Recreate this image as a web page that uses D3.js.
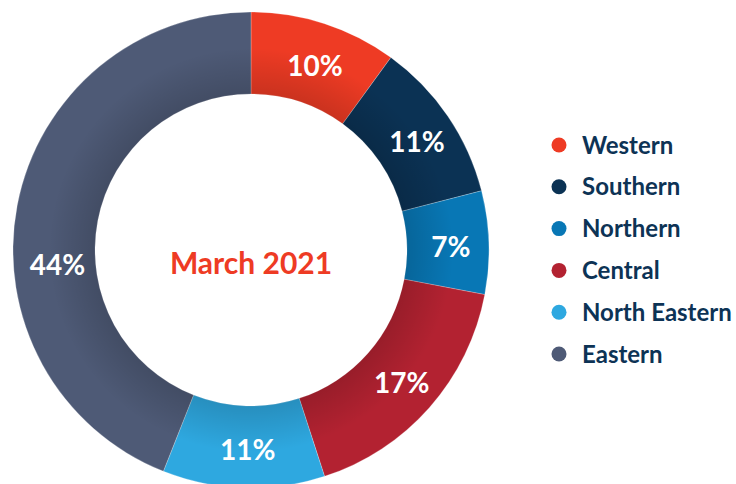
<!DOCTYPE html>
<html>
<head>
<meta charset="utf-8">
<script src="https://cdn.jsdelivr.net/npm/d3@7"></script>
<style>
  body { margin: 0; background: #fff; }
  svg { display: block; font-family: Lato, "Open Sans", sans-serif; }
</style>
</head>
<body>
<svg id="chart" width="736" height="484"></svg>
<script>
var regions = ["Western", "Southern", "Northern", "Central", "North Eastern", "Eastern"];
var shares = [10, 11, 7, 17, 11, 44];
var colors = ["#ee3b24", "#0b3254", "#0877b5", "#b32231", "#2ea8e0", "#4e5a76"];
var centerTitle = "March 2021";

var svg = d3.select("#chart");
var cx = 251, cy = 250, outerR = 238, innerR = 156;

// darker near the hole, like the original
var grad = svg.append("defs").append("radialGradient")
    .attr("id", "shade")
    .attr("gradientUnits", "userSpaceOnUse")
    .attr("cx", 0).attr("cy", 0).attr("r", outerR);
grad.append("stop").attr("offset", innerR / outerR).attr("stop-color", "#000").attr("stop-opacity", 0.15);
grad.append("stop").attr("offset", 0.85).attr("stop-color", "#000").attr("stop-opacity", 0);

var pie = d3.pie().sort(null).value(function(d){ return d; });
var arcs = pie(shares);
var arc = d3.arc().innerRadius(innerR).outerRadius(outerR);
var midR = (innerR + outerR) / 2;

var g = svg.append("g").attr("transform", "translate(" + cx + "," + cy + ")");

g.selectAll("path.slice")
    .data(arcs)
    .enter().append("path")
    .attr("class", "slice")
    .attr("d", arc)
    .attr("fill", function(d, i){ return colors[i]; })
    .attr("stroke", "#fff")
    .attr("stroke-opacity", 0.4)
    .attr("stroke-width", 0.6);

g.selectAll("path.shade")
    .data(arcs)
    .enter().append("path")
    .attr("class", "shade")
    .attr("d", arc)
    .attr("fill", "url(#shade)");

// label position: middle of the slice, the big one sits on the left side
function labelPos(d){
    var a = (d.startAngle + d.endAngle) / 2;
    if (d.endAngle - d.startAngle > Math.PI * 0.6) a = Math.PI * 1.48;
    return [midR * Math.sin(a) + 3, -midR * Math.cos(a) + 3];
}

g.selectAll("text")
    .data(arcs)
    .enter().append("text")
    .attr("transform", function(d){ return "translate(" + labelPos(d) + ")"; })
    .attr("text-anchor", "middle")
    .attr("dy", "0.36em")
    .attr("fill", "#fff")
    .attr("font-size", 28)
    .attr("font-weight", "bold")
    .text(function(d){ return d.data + "%"; });

svg.append("text")
    .attr("x", cx)
    .attr("y", cy + 13)
    .attr("text-anchor", "middle")
    .attr("dy", "0.36em")
    .attr("fill", "#ee3b24")
    .attr("font-size", 30)
    .attr("font-weight", "bold")
    .text(centerTitle);

var legendY = d3.scalePoint().domain(regions).range([145, 354]);
var legend = svg.append("g").selectAll("g")
    .data(regions)
    .enter().append("g")
    .attr("transform", function(d){ return "translate(559," + legendY(d) + ")"; });
legend.append("circle")
    .attr("r", 7.5)
    .attr("fill", function(d, i){ return colors[i]; });
legend.append("text")
    .attr("x", 23)
    .attr("dy", "0.36em")
    .attr("fill", "#0d3355")
    .attr("font-size", 24)
    .attr("font-weight", "bold")
    .text(function(d){ return d; });
</script>
</body>
</html>
